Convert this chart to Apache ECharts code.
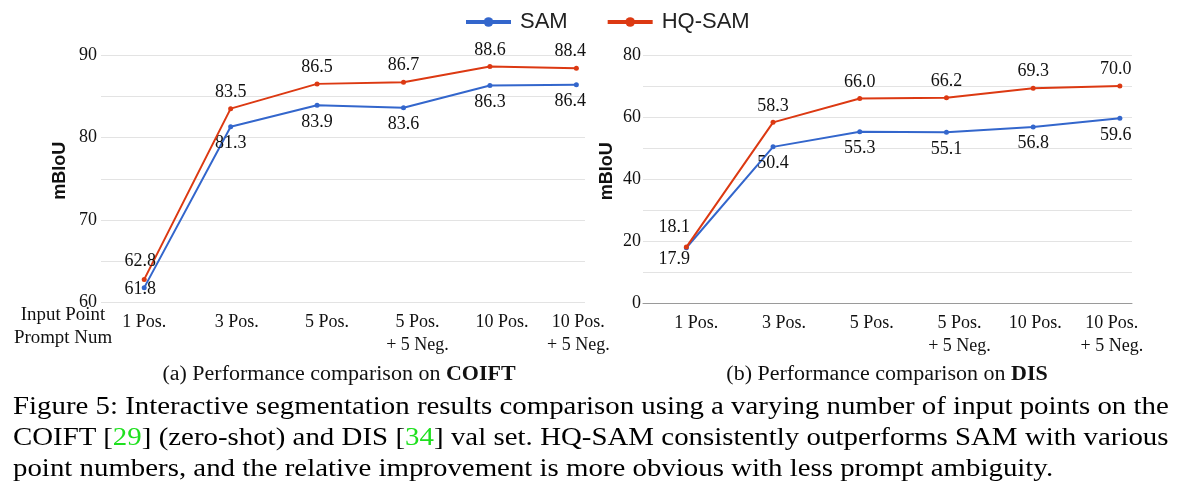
<!DOCTYPE html>
<html>
<head>
<meta charset="utf-8">
<script src="https://cdn.jsdelivr.net/npm/echarts@6/dist/echarts.min.js"></script>
<style>
  html, body { margin: 0; padding: 0; background: #ffffff; }
  #wrap { position: relative; width: 1181px; height: 492px; overflow: hidden; }
  #chart { position: absolute; left: 0; top: 0; width: 1181px; height: 492px; }
  #caption { position: absolute; left: 13px; top: 390px; width: 1041px;
             transform: scaleX(1.11); transform-origin: 0 0;
             font-family: "Liberation Serif", "Times New Roman", serif; font-size: 26px;
             line-height: 31px; color: #000; }
  #caption .j { text-align: justify; text-align-last: justify; white-space: nowrap; }
  #caption .l { text-align: left; white-space: nowrap; }
  #caption .ref { color: #1fe01f; }
</style>
</head>
<body>
<div id="wrap">
  <div id="chart"></div>
  <div id="caption">
    <div class="j">Figure 5: Interactive segmentation results comparison using a varying number of input points on the</div>
    <div class="j">COIFT [<span class="ref">29</span>] (zero-shot) and DIS [<span class="ref">34</span>] val set. HQ-SAM consistently outperforms SAM with various</div>
    <div class="l">point numbers, and the relative improvement is more obvious with less prompt ambiguity.</div>
  </div>
</div>
<script>
// ---------------- data ----------------
const categories = ['1 Pos.', '3 Pos.', '5 Pos.', '5 Pos.\n+ 5 Neg.', '10 Pos.', '10 Pos.\n+ 5 Neg.'];
const coiftSAM   = [61.8, 81.3, 83.9, 83.6, 86.3, 86.4];
const coiftHQSAM = [62.8, 83.5, 86.5, 86.7, 88.6, 88.4];
const disSAM     = [17.9, 50.4, 55.3, 55.1, 56.8, 59.6];
const disHQSAM   = [18.1, 58.3, 66.0, 66.2, 69.3, 70.0];
const coiftYTicks = [60, 70, 80, 90];
const disYTicks   = [0, 20, 40, 60, 80];
const seriesNames = ['SAM', 'HQ-SAM'];

// ---------------- styling (positions / nudges only) ----------------
const SERIF = '"Liberation Serif", "Times New Roman", serif';
const SANS = '"Liberation Sans", Arial, sans-serif';
const BLUE = '#3366cc', RED = '#dc3912';
const GRID_LINE = '#e3e3e3';
// pixel nudges for individual value labels [dx, dy]
const nudgeCoiftSAM = {0: [-4, -15], 5: [-6, 0]};
const nudgeCoiftHQ  = {0: [-4, -2], 5: [-6, 0]};
const nudgeDisSAM   = {0: [-12, -5], 5: [-4, 0]};
const nudgeDisHQ    = {0: [-12, -3], 5: [-4, 0]};
// pixel nudges for x tick labels (horizontal)
const xNudgeCoift = [0, 6, 10, 14, 12, 2];
const xNudgeDis   = [10, 11, 12, 13, 2, -8];

function buildRich(nudges) {
  const rich = {};
  nudges.forEach((n, i) => {
    rich['t' + i] = {
      fontFamily: SERIF, fontSize: 18, color: '#111', lineHeight: 23,
      padding: n >= 0 ? [0, 0, 0, 2 * n] : [0, -2 * n, 0, 0]
    };
  });
  return rich;
}

function seriesData(values, nudges) {
  return values.map((v, i) => {
    const item = { value: [i, v] };
    if (nudges[i]) item.label = { offset: nudges[i] };
    return item;
  });
}

function makeSeries(name, values, idx, color, pos, nudges) {
  return {
    name: name, type: 'line', xAxisIndex: idx, yAxisIndex: idx,
    data: seriesData(values, nudges),
    symbol: 'circle', symbolSize: 5,
    lineStyle: { color: color, width: 2 },
    itemStyle: { color: color },
    label: {
      show: true, position: pos, distance: 5,
      fontFamily: SERIF, fontSize: 18, color: '#111',
      formatter: p => p.value[1].toFixed(1)
    },
    z: name === 'HQ-SAM' ? 3 : 2
  };
}

function xAxis(gridIndex, max, nudges, showLine) {
  return {
    type: 'value', gridIndex: gridIndex, min: -0.5, max: max,
    splitLine: { show: false },
    axisTick: { show: false },
    axisLine: { show: showLine, onZero: false, lineStyle: { color: '#9a9a9a', width: 1 } },
    axisLabel: {
      customValues: categories.map((c, i) => i),
      margin: 8,
      formatter: v => '{t' + Math.round(v) + '|' + categories[Math.round(v)] + '}',
      rich: buildRich(nudges)
    }
  };
}

function yAxis(gridIndex, min, max, interval, ticks, labelMargin, nameGap) {
  return {
    type: 'value', gridIndex: gridIndex, min: min, max: max, interval: interval,
    name: 'mBIoU', nameLocation: 'middle', nameGap: nameGap, nameRotate: 90,
    nameTextStyle: { fontFamily: SANS, fontWeight: 'bold', fontSize: 18, color: '#111', padding: [0, 0, 0, 16] },
    axisLine: { show: false }, axisTick: { show: false },
    splitLine: { show: true, lineStyle: { color: GRID_LINE, width: 1 } },
    axisLabel: { customValues: ticks, margin: labelMargin, fontFamily: SERIF, fontSize: 18, color: '#111' }
  };
}

const subRich = {
  n: { fontFamily: SERIF, fontSize: 20, fill: '#111' },
  b: { fontFamily: SERIF, fontSize: 20, fontWeight: 'bold', fill: '#111' }
};

const chart = echarts.init(document.getElementById('chart'), null, { renderer: 'canvas' });
chart.setOption({
  animation: false,
  backgroundColor: '#ffffff',
  legend: {
    data: seriesNames, left: 459, top: 6, itemWidth: 45, itemHeight: 12, itemGap: 38,
    textStyle: { fontFamily: SANS, fontSize: 22, color: '#222', padding: [0, 0, 0, 4] },
    lineStyle: { width: 4 }
  },
  grid: [
    { left: 101, top: 55, width: 484, height: 247.5, containLabel: false },
    { left: 643, top: 55, width: 489, height: 248.3, containLabel: false }
  ],
  xAxis: [ xAxis(0, 5.1, xNudgeCoift, false), xAxis(1, 5.14, xNudgeDis, true) ],
  yAxis: [ yAxis(0, 60, 90, 5, coiftYTicks, 4, 32), yAxis(1, 0, 80, 10, disYTicks, 2, 27) ],
  series: [
    makeSeries('SAM', coiftSAM, 0, BLUE, 'bottom', nudgeCoiftSAM),
    makeSeries('HQ-SAM', coiftHQSAM, 0, RED, 'top', nudgeCoiftHQ),
    makeSeries('SAM', disSAM, 1, BLUE, 'bottom', nudgeDisSAM),
    makeSeries('HQ-SAM', disHQSAM, 1, RED, 'top', nudgeDisHQ)
  ],
  graphic: [
    { type: 'text', x: 63, y: 304, scaleX: 1.05, style: { text: 'Input Point\nPrompt Num', fontFamily: SERIF, fontSize: 18, lineHeight: 23, fill: '#111', align: 'center', verticalAlign: 'top' } },
    { type: 'text', x: 339, y: 375, scaleX: 1.1, style: {
        text: '{n|(a) Performance comparison on }{b|COIFT}', rich: subRich,
        align: 'center', verticalAlign: 'middle' } },
    { type: 'text', x: 887, y: 375, scaleX: 1.1, style: {
        text: '{n|(b) Performance comparison on }{b|DIS}', rich: subRich,
        align: 'center', verticalAlign: 'middle' } }
  ]
});
</script>
</body>
</html>
